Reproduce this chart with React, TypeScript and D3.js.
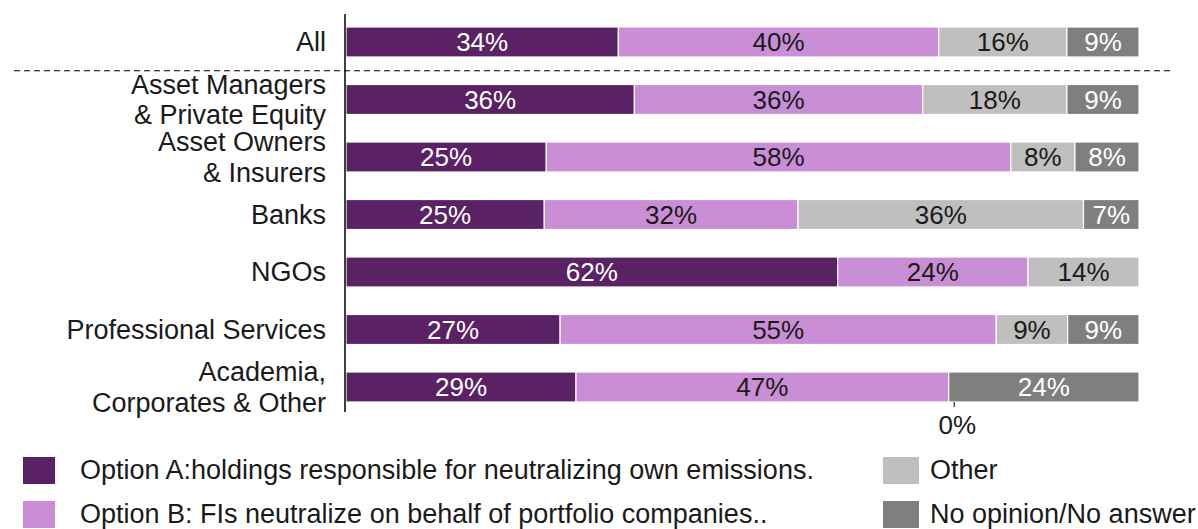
import React from "react";
import * as d3 from "d3";

const categories = [
  "All",
  "Asset Managers\n& Private Equity",
  "Asset Owners\n& Insurers",
  "Banks",
  "NGOs",
  "Professional Services",
  "Academia,\nCorporates & Other",
];
const optionA = [34, 36, 25, 25, 62, 27, 29];
const optionB = [40, 36, 58, 32, 24, 55, 47];
const other = [16, 18, 8, 36, 14, 9, 0];
const noOpinion = [9, 9, 8, 7, 0, 9, 24];

const seriesNames = [
  "Option A:holdings responsible for neutralizing own emissions.",
  "Option B: FIs neutralize on behalf of portfolio companies..",
  "Other",
  "No opinion/No answer",
];
const seriesColors = ["#5B2165", "#C98ED6", "#BFBFBF", "#7F7F7F"];
const labelColors = ["#ffffff", "#1a1a1a", "#1a1a1a", "#ffffff"];
const axisTickLabel = "0%";
const axisTickValue = 0.767;

const W = 1198;
const H = 529;
const FONT = "'Liberation Sans', Arial, sans-serif";

export default function App() {
  const x = d3.scaleLinear().domain([0, 1]).range([346, 1139]);
  const y = d3.scalePoint<number>().domain(d3.range(categories.length)).range([13.25, 415.75]).padding(0.5);
  const barH = 30;
  const seriesData = [optionA, optionB, other, noOpinion];

  const rows = categories.map((c, i) => {
    const vals = seriesData.map((s) => s[i]);
    const total = d3.sum(vals);
    let cum = 0;
    const segs = vals.map((v, k) => {
      const x0 = cum / total;
      cum += v;
      const x1 = cum / total;
      return { v, k, x0, x1 };
    });
    return { c, i, segs };
  });

  const lineGap = 30.5;
  const sepY = ((y(0) as number) + (y(1) as number)) / 2;
  const lastY = y(categories.length - 1) as number;

  return (
    <svg width={W} height={H} style={{ position: "absolute", left: 0, top: 0, background: "#fff" }} fontFamily={FONT}>
      {rows.map((r) => {
        const cy = y(r.i) as number;
        const lines = r.c.split("\n");
        return (
          <g key={r.i}>
            {r.segs
              .filter((s) => s.v > 0)
              .map((s) => (
                <g key={s.k}>
                  <rect
                    x={x(s.x0)}
                    y={cy - barH / 2}
                    width={x(s.x1) - x(s.x0)}
                    height={barH}
                    fill={seriesColors[s.k]}
                    stroke="#ffffff"
                    strokeWidth={1.2}
                  />
                  <text
                    x={(x(s.x0) + x(s.x1)) / 2}
                    y={cy}
                    dy="0.35em"
                    textAnchor="middle"
                    fontSize={26}
                    fill={labelColors[s.k]}
                  >
                    {s.v}%
                  </text>
                </g>
              ))}
            {lines.map((ln, j) => (
              <text
                key={j}
                x={326}
                y={cy + (j - (lines.length - 1) / 2) * lineGap}
                dy="0.35em"
                textAnchor="end"
                fontSize={27}
                fill="#1a1a1a"
              >
                {ln}
              </text>
            ))}
          </g>
        );
      })}
      <line x1={345} x2={345} y1={14} y2={412} stroke="#000" strokeWidth={1.5} />
      <line x1={14} x2={1170} y1={sepY} y2={sepY} stroke="#000" strokeWidth={1.2} strokeDasharray="6,4" />
      <line x1={x(axisTickValue)} x2={x(axisTickValue)} y1={lastY + barH / 2} y2={lastY + barH / 2 + 5} stroke="#000" strokeWidth={1} />
      <text x={x(axisTickValue) + 3} y={425} dy="0.35em" textAnchor="middle" fontSize={26} fill="#1a1a1a">
        {axisTickLabel}
      </text>
      {seriesNames.map((name, k) => {
        const col = k < 2 ? 0 : 1;
        const row = k % 2;
        const lx = col === 0 ? 23 : 883;
        const ly = row === 0 ? 470 : 514;
        return (
          <g key={k}>
            <rect x={lx} y={ly - 13} width={col === 0 ? 32 : 36} height={27} fill={seriesColors[k]} />
            <text x={lx + (col === 0 ? 57 : 47)} y={ly} dy="0.35em" fontSize={27} fill="#1a1a1a">
              {name}
            </text>
          </g>
        );
      })}
    </svg>
  );
}
